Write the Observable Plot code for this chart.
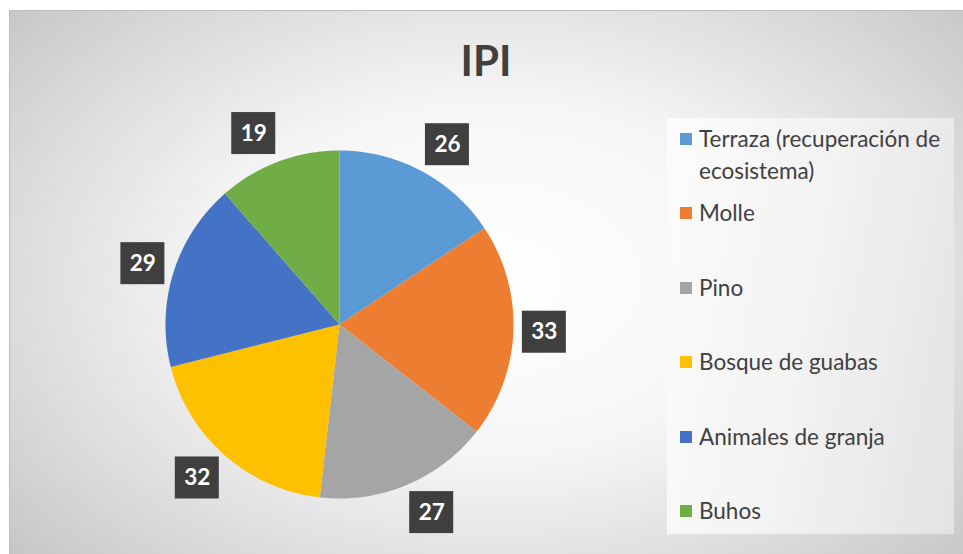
<!DOCTYPE html>
<html>
<head>
<meta charset="utf-8">
<script src="https://cdn.jsdelivr.net/npm/d3@7"></script>
<script src="https://cdn.jsdelivr.net/npm/@observablehq/plot@0.6"></script>
<style>
  html, body { margin: 0; padding: 0; width: 963px; height: 554px; overflow: hidden; background: #ffffff; }
  #wrap { position: relative; width: 963px; height: 554px; font-family: Lato, "Open Sans", sans-serif; }
  #box {
    position: absolute; left: 9px; top: 10px; width: 970px; height: 560px;
    border: 1px solid #bdbdbd; box-sizing: border-box;
    background: radial-gradient(ellipse 62% 70% at 50% 48%, #ffffff 0%, #f6f6f6 45%, #dcdcdc 80%, #c4c4c4 110%);
  }
  #title {
    position: absolute; left: 9px; width: 954px; top: 31px; text-align: center;
    font-family: Lato, sans-serif; font-weight: bold; font-size: 42px; color: #404040; line-height: 58px;
  }
  #legend {
    position: absolute; left: 667px; top: 118px; width: 287px; height: 416px;
    background: linear-gradient(100deg, #fcfcfc 0%, #f2f2f2 50%, #e3e3e3 100%);
  }
  .item { position: absolute; left: 13px; width: 274px; font-size: 22.5px; line-height: 32px; color: #404040; }
  .sw { position: absolute; left: 0; top: 10px; width: 12px; height: 12px; }
  .lt { position: absolute; left: 19px; top: 0; width: 256px; }
  #chart { position: absolute; left: 0; top: 0; }
</style>
</head>
<body>
<div id="wrap">
  <div id="box"></div>
  <div id="title"></div>
  <div id="legend"></div>
  <div id="chart"></div>
</div>
<script>
const title = "IPI";
const categories = ["Terraza (recuperación de ecosistema)", "Molle", "Pino", "Bosque de guabas", "Animales de granja", "Buhos"];
const values = [26, 33, 27, 32, 29, 19];
const colors = ["#5B9BD5", "#ED7D31", "#A5A5A5", "#FFC000", "#4472C4", "#70AD47"];

// layout
const W = 963, H = 554, CX = 339, CY = 324, R = 174;

document.getElementById("title").textContent = title;

// legend
const legend = document.getElementById("legend");
categories.forEach((c, i) => {
  const it = document.createElement("div");
  it.className = "item";
  it.style.top = (5 + i * 74.4) + "px";
  const sw = document.createElement("div");
  sw.className = "sw";
  sw.style.background = colors[i];
  const lt = document.createElement("div");
  lt.className = "lt";
  lt.textContent = c;
  it.appendChild(sw); it.appendChild(lt);
  legend.appendChild(it);
});

// pie geometry from data
const arcs = d3.pie().sort(null)(values);
const slicePts = [];
arcs.forEach((a, i) => {
  const name = categories[i];
  slicePts.push({name, x: 0, y: 0});
  const n = Math.max(2, Math.ceil((a.endAngle - a.startAngle) / (Math.PI / 360)));
  for (let k = 0; k <= n; k++) {
    const t = a.startAngle + (a.endAngle - a.startAngle) * k / n;
    slicePts.push({name, x: Math.sin(t), y: Math.cos(t)});
  }
  slicePts.push({name, x: 0, y: 0});
});

// outside-end labels: anchor just outside the arc, box pushed outward
const hw = 22 / R, hh = 21 / R, gap = 10 / R;
const labels = arcs.map((a, i) => {
  const m = (a.startAngle + a.endAngle) / 2;
  const ux = Math.sin(m), uy = Math.cos(m);
  const x = (1 + gap) * ux + (21 / R) * Math.sign(ux);
  const y = (1 + gap) * uy + (20 / R) * uy;
  return {name: categories[i], value: values[i], x, y, x1: x - hw, x2: x + hw, y1: y - hh, y2: y + hh};
});

const plot = Plot.plot({
  width: W, height: H, margin: 0,
  x: {axis: null, domain: [-CX / R, (W - CX) / R]},
  y: {axis: null, domain: [(CY - H) / R, CY / R]},
  color: {domain: categories, range: colors},
  style: {background: "transparent", overflow: "visible"},
  marks: [
    Plot.line(slicePts, {x: "x", y: "y", z: "name", fill: "name", stroke: "none", curve: "linear"}),
    Plot.rect(labels, {x1: "x1", x2: "x2", y1: "y1", y2: "y2", fill: "#3f3f3f", ariaLabel: "labelbox"}),
    Plot.text(labels, {x: "x", y: "y", text: d => String(d.value), fill: "white", fontWeight: "bold", fontSize: 22.5, fontFamily: "Lato, sans-serif"})
  ]
});

// pattern + shadow for label boxes
const svg = d3.select(plot);
const defs = svg.insert("defs", ":first-child");
const pat = defs.append("pattern").attr("id", "dots").attr("patternUnits", "userSpaceOnUse")
  .attr("width", 7).attr("height", 7);
pat.append("rect").attr("width", 7).attr("height", 7).attr("fill", "#3d3d3d");
pat.append("rect").attr("x", 2).attr("y", 2).attr("width", 2).attr("height", 2).attr("fill", "#515151");
const f = defs.append("filter").attr("id", "shadow").attr("x", "-30%").attr("y", "-30%").attr("width", "170%").attr("height", "170%");
f.append("feDropShadow").attr("dx", 3).attr("dy", 3).attr("stdDeviation", 2.5).attr("flood-color", "#000").attr("flood-opacity", 0.45);
svg.selectAll('g[aria-label="labelbox"] rect').attr("fill", "url(#dots)").attr("filter", "url(#shadow)");

document.getElementById("chart").appendChild(plot);
</script>
</body>
</html>
